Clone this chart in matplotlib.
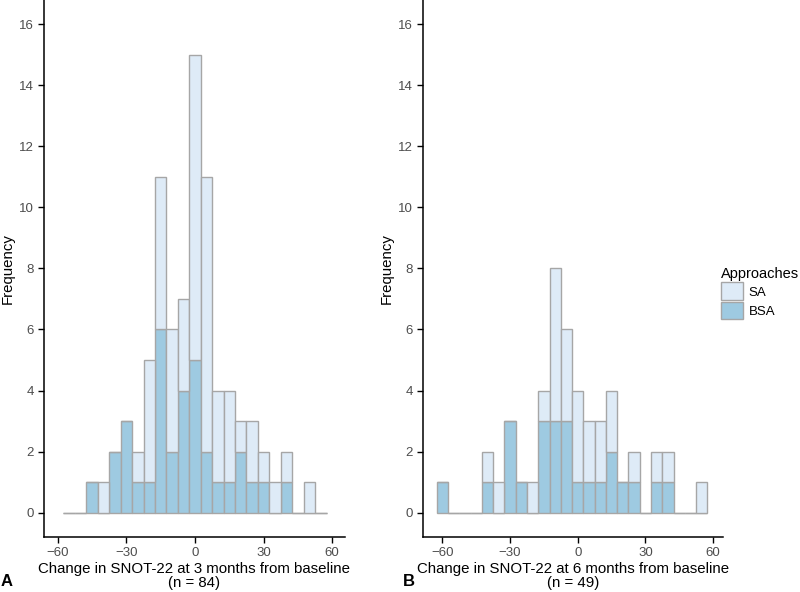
import numpy as np
import matplotlib
matplotlib.use("Agg")
import matplotlib.pyplot as plt
from matplotlib.patches import Patch

plt.rcParams['font.family'] = ['Liberation Sans', 'DejaVu Sans']

# bin centres (width 5) and counts per approach
a_centers = [-55, -50, -45, -40, -35, -30, -25, -20, -15, -10, -5, 0, 5, 10, 15, 20, 25, 30, 35, 40, 45, 50, 55]
a_bsa = [0, 0, 1, 0, 2, 3, 1, 1, 6, 2, 4, 5, 2, 1, 1, 2, 1, 1, 0, 1, 0, 0, 0]
a_sa = [0, 0, 0, 1, 0, 0, 1, 4, 5, 4, 3, 10, 9, 3, 3, 1, 2, 1, 1, 1, 0, 1, 0]

b_centers = [-60, -55, -50, -45, -40, -35, -30, -25, -20, -15, -10, -5, 0, 5, 10, 15, 20, 25, 30, 35, 40, 45, 50, 55]
b_bsa = [1, 0, 0, 0, 1, 0, 3, 1, 0, 3, 3, 3, 1, 1, 1, 2, 1, 1, 0, 1, 1, 0, 0, 0]
b_sa = [0, 0, 0, 0, 1, 1, 0, 0, 1, 1, 5, 3, 3, 2, 2, 2, 0, 1, 0, 1, 1, 0, 0, 1]

xticks = [-60, -30, 0, 30, 60]
yticks = [0, 2, 4, 6, 8, 10, 12, 14, 16]

sa_col = "#deebf7"
bsa_col = "#9ecae1"
edge = "#a6a6a6"

fig = plt.figure(figsize=(8, 5.92), dpi=100)
axA = fig.add_axes([0.055, 0.093, 0.376, 0.907])
axB = fig.add_axes([0.529, 0.093, 0.375, 0.907])


def draw(ax, centers, bsa, sa, xlim, xlabel):
    ax.bar(centers, bsa, width=5, color=bsa_col, edgecolor=edge, linewidth=1.0)
    ax.bar(centers, sa, width=5, bottom=bsa, color=sa_col, edgecolor=edge, linewidth=1.0)
    ax.set_xlim(*xlim)
    ax.set_ylim(-0.8, 16.8)
    ax.set_xticks(xticks)
    ax.set_yticks(yticks)
    ax.spines['top'].set_visible(False)
    ax.spines['right'].set_visible(False)
    for s in ['left', 'bottom']:
        ax.spines[s].set_linewidth(1.1)
    ax.tick_params(direction='out', length=4, width=1, colors='black',
                   labelcolor='#4d4d4d', labelsize=9.5)
    ax.set_xlabel(xlabel, fontsize=10.8, linespacing=0.95, labelpad=2)
    ax.set_ylabel("Frequency", fontsize=10.8, labelpad=3)


draw(axA, a_centers, a_bsa, a_sa, (-66, 65.5),
     "Change in SNOT-22 at 3 months from baseline\n(n = 84)")
draw(axB, b_centers, b_bsa, b_sa, (-68.5, 64.5),
     "Change in SNOT-22 at 6 months from baseline\n(n = 49)")

fig.text(0.001, 0.01, "A", fontsize=12, fontweight='bold')
fig.text(0.504, 0.01, "B", fontsize=12, fontweight='bold')

handles = [Patch(facecolor=sa_col, edgecolor=edge, linewidth=1.0, label="SA"),
           Patch(facecolor=bsa_col, edgecolor=edge, linewidth=1.0, label="BSA")]
leg = fig.legend(handles=handles, title="Approaches", loc='upper left',
                 bbox_to_anchor=(0.893, 0.56), frameon=False, fontsize=9.5,
                 title_fontsize=10.5, handlelength=1.7, handleheight=1.7,
                 handletextpad=0.4, labelspacing=0.1, borderpad=0)
leg._legend_box.align = "left"

fig.savefig("out.png", dpi=100)
